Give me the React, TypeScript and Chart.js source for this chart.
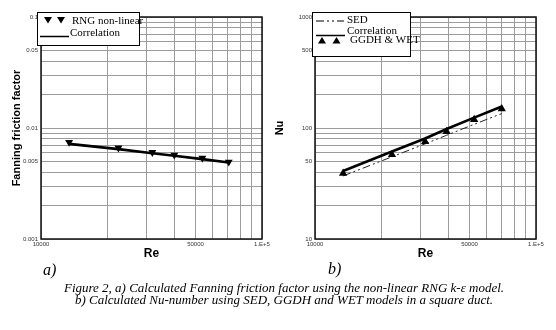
import React, { useEffect, useRef } from "react";
import { Chart, registerables } from "chart.js";

Chart.register(...registerables);

// ---------- data ----------
const reTicks = [10000, 20000, 30000, 40000, 50000, 60000, 70000, 80000, 90000, 100000];
const reTickLabels: [number, string][] = [[10000, "10000"], [50000, "50000"], [100000, "1.E+5"]];

const fTicks = [0.001, 0.002, 0.003, 0.004, 0.005, 0.006, 0.007, 0.008, 0.009, 0.01, 0.02, 0.03, 0.04, 0.05, 0.06, 0.07, 0.08, 0.09, 0.1];
const fTickLabels: [number, string][] = [[0.1, "0.1"], [0.05, "0.05"], [0.01, "0.01"], [0.005, "0.005"], [0.001, "0.001"]];

const nuTicks = [10, 20, 30, 40, 50, 60, 70, 80, 90, 100, 200, 300, 400, 500, 600, 700, 800, 900, 1000];
const nuTickLabels: [number, string][] = [[1000, "1000"], [500, "500"], [100, "100"], [50, "50"], [10, "10"]];

// (a) friction factor
const reFriction = [13400, 22400, 31900, 40100, 53700, 70700];
const fRng = [0.00744, 0.00662, 0.00604, 0.00572, 0.00537, 0.00494];
const fCorrelation = [0.0072, 0.00645, 0.00592, 0.00562, 0.00524, 0.00488];

// (b) Nusselt number
const reNu = [13400, 22300, 31500, 39400, 52500, 70000];
const nuGgdhWet = [39, 57.5, 75.5, 93, 119, 149];
const nuCorrelation = [41, 61.5, 80.5, 98, 124, 156];
const nuSed = [37, 55, 72, 86, 108, 135];

const SANS = '"Liberation Sans", Arial, sans-serif';
const SERIF = '"Liberation Serif", "Times New Roman", serif';

function labelFor(list: [number, string][], v: number) {
  for (const [k, s] of list) if (Math.abs(k - v) / k < 1e-6) return s;
  return "";
}

function drawTri(ctx: CanvasRenderingContext2D, x: number, y: number, r: number, down: boolean) {
  ctx.beginPath();
  if (down) {
    ctx.moveTo(x - r, y - r * 0.75);
    ctx.lineTo(x + r, y - r * 0.75);
    ctx.lineTo(x, y + r * 0.85);
  } else {
    ctx.moveTo(x - r, y + r * 0.75);
    ctx.lineTo(x + r, y + r * 0.75);
    ctx.lineTo(x, y - r * 0.85);
  }
  ctx.closePath();
  ctx.fill();
}

const frame = {
  id: "frame",
  beforeDatasetsDraw(chart: any) {
    const { ctx, chartArea: a } = chart;
    ctx.save();
    ctx.strokeStyle = "#111";
    ctx.lineWidth = 1.5;
    ctx.strokeRect(a.left, a.top, a.right - a.left, a.bottom - a.top);
    ctx.restore();
  },
};

const boxLegend = {
  id: "boxLegend",
  afterDraw(chart: any, _args: any, opts: any) {
    if (!opts || !opts.box) return;
    const ctx: CanvasRenderingContext2D = chart.ctx;
    const [bx, by, bw, bh] = opts.box;
    ctx.save();
    ctx.fillStyle = "#fff";
    ctx.fillRect(bx, by, bw, bh);
    ctx.strokeStyle = "#000";
    ctx.lineWidth = 1;
    ctx.strokeRect(bx + 0.5, by + 0.5, bw, bh);
    for (const it of opts.items) {
      const ds = chart.data.datasets[it.ds];
      ctx.fillStyle = "#000";
      ctx.strokeStyle = "#000";
      if (it.kind === "line") {
        ctx.beginPath();
        ctx.setLineDash(ds.borderDash || []);
        ctx.lineWidth = it.lw;
        ctx.moveTo(it.x0, it.y);
        ctx.lineTo(it.x1, it.y);
        ctx.stroke();
        ctx.setLineDash([]);
      } else {
        for (const tx of it.xs) drawTri(ctx, tx, it.y, 4, it.down);
      }
      ctx.font = `11px ${SERIF}`;
      ctx.textBaseline = "middle";
      ctx.textAlign = "left";
      ctx.fillText(ds.label, it.tx, it.ty);
    }
    ctx.restore();
  },
};

function logAxis(ticks: number[], labels: [number, string][], min: number, max: number, horizontal: boolean, title: string, titlePad: number, size: number, tickPad: number) {
  return {
    type: "logarithmic",
    min,
    max,
    afterBuildTicks: (s: any) => {
      s.ticks = ticks.map((v) => ({ value: v }));
    },
    afterFit: (s: any) => {
      if (horizontal) s.height = size;
      else s.width = size;
    },
    ticks: {
      autoSkip: false,
      maxRotation: 0,
      minRotation: 0,
      padding: tickPad,
      color: "#333",
      font: { size: 6, family: SANS },
      callback: (v: any) => labelFor(labels, Number(v)),
    },
    grid: { color: "#9c9c9c", lineWidth: 1, drawTicks: false },
    border: { display: false },
    title: {
      display: true,
      text: title,
      color: "#000",
      font: { size: horizontal ? 12 : 11, weight: "bold", family: SANS },
      padding: horizontal ? { top: 0, bottom: titlePad } : { top: titlePad, bottom: 0 },
    },
  };
}

export default function App() {
  const leftRef = useRef<HTMLCanvasElement>(null);
  const rightRef = useRef<HTMLCanvasElement>(null);

  useEffect(() => {
    const left = new Chart(leftRef.current!, {
      type: "scatter",
      data: {
        datasets: [
          {
            label: "RNG non-linear",
            data: reFriction.map((x, i) => ({ x, y: fRng[i] })),
            showLine: false,
            pointStyle: "triangle",
            rotation: 180,
            pointRadius: 4.6,
            backgroundColor: "#000",
            borderColor: "#000",
            borderWidth: 0,
          },
          {
            label: "Correlation",
            data: reFriction.map((x, i) => ({ x, y: fCorrelation[i] })),
            showLine: true,
            pointRadius: 0,
            borderColor: "#000",
            borderWidth: 2.6,
          },
        ],
      } as any,
      options: {
        responsive: false,
        animation: false,
        layout: { padding: { left: 0, top: 17, right: 16, bottom: 0 } },
        scales: {
          x: logAxis(reTicks, reTickLabels, 10000, 100000, true, "Re", 4, 26, 2),
          y: logAxis(fTicks, fTickLabels, 0.001, 0.1, false, "Fanning friction factor", 10, 41, 3),
        } as any,
        plugins: {
          legend: { display: false },
          tooltip: { enabled: false },
          boxLegend: {
            box: [37, 12, 102, 33],
            items: [
              { ds: 0, kind: "tri", down: true, xs: [48, 61], y: 20, tx: 72, ty: 21 },
              { ds: 1, kind: "line", lw: 1.5, x0: 40, x1: 69, y: 36.5, tx: 70, ty: 33 },
            ],
          },
        } as any,
      },
      plugins: [frame, boxLegend],
    });

    const right = new Chart(rightRef.current!, {
      type: "scatter",
      data: {
        datasets: [
          {
            label: "GGDH & WET",
            data: reNu.map((x, i) => ({ x, y: nuGgdhWet[i] })),
            showLine: false,
            pointStyle: "triangle",
            pointRadius: 4.8,
            backgroundColor: "#000",
            borderColor: "#000",
            borderWidth: 0,
          },
          {
            label: "Correlation",
            data: reNu.map((x, i) => ({ x, y: nuCorrelation[i] })),
            showLine: true,
            pointRadius: 0,
            borderColor: "#000",
            borderWidth: 2.6,
          },
          {
            label: "SED",
            data: reNu.map((x, i) => ({ x, y: nuSed[i] })),
            showLine: true,
            pointRadius: 0,
            borderColor: "#222",
            borderWidth: 1,
            borderDash: [8, 3, 2, 3, 2, 3],
          },
        ],
      } as any,
      options: {
        responsive: false,
        animation: false,
        layout: { padding: { left: 0, top: 17, right: 20, bottom: 0 } },
        scales: {
          x: logAxis(reTicks, reTickLabels, 10000, 100000, true, "Re", 4, 26, 2),
          y: logAxis(nuTicks, nuTickLabels, 10, 1000, false, "Nu", 3, 45, 3),
        } as any,
        plugins: {
          legend: { display: false },
          tooltip: { enabled: false },
          boxLegend: {
            box: [42, 12, 98, 44],
            items: [
              { ds: 2, kind: "line", lw: 1, x0: 46, x1: 74, y: 21, tx: 77, ty: 20 },
              { ds: 1, kind: "line", lw: 1.5, x0: 46, x1: 75, y: 35.5, tx: 77, ty: 31 },
              { ds: 0, kind: "tri", down: false, xs: [52, 66.5], y: 40.5, tx: 80, ty: 40 },
            ],
          },
        } as any,
      },
      plugins: [frame, boxLegend],
    });

    return () => {
      left.destroy();
      right.destroy();
    };
  }, []);

  return (
    <div style={{ position: "absolute", left: 0, top: 0, width: 556, height: 330, background: "#fff", overflow: "hidden" }}>
      <canvas ref={leftRef} width={278} height={265} style={{ position: "absolute", left: 0, top: 0 }} />
      <canvas ref={rightRef} width={286} height={265} style={{ position: "absolute", left: 270, top: 0 }} />
      <div style={{ position: "absolute", left: 43, top: 262, font: `italic 16px/16px ${SERIF}`, color: "#000" }}>a)</div>
      <div style={{ position: "absolute", left: 328, top: 261, font: `italic 16px/16px ${SERIF}`, color: "#000" }}>b)</div>
      <div style={{ position: "absolute", left: 284, top: 282, transform: "translateX(-50%)", whiteSpace: "nowrap", font: `italic 13px/12px ${SERIF}`, color: "#000" }}>
        Figure 2, a) Calculated Fanning friction factor using the non-linear RNG k-ε model.
      </div>
      <div style={{ position: "absolute", left: 284, top: 294, transform: "translateX(-50%)", whiteSpace: "nowrap", font: `italic 13px/12px ${SERIF}`, color: "#000" }}>
        b) Calculated Nu-number using SED, GGDH and WET models in a square duct.
      </div>
    </div>
  );
}
